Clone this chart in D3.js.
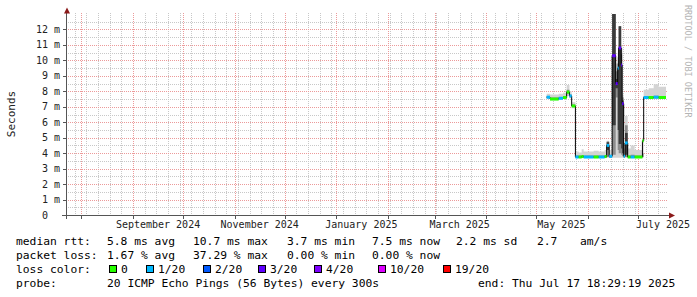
<!DOCTYPE html>
<html>
<head>
<meta charset="utf-8">
<script src="https://cdn.jsdelivr.net/npm/d3@7"></script>
<style>
  body { margin: 0; background: #fff; }
  svg { display: block; font-family: "DejaVu Sans Mono", monospace; }
  text { white-space: pre; }
</style>
</head>
<body>
<svg id="chart" width="697" height="297"></svg>
<script>
// ---- data ----
const endTime = new Date(2025, 6, 17, 18, 29, 19);
const startTime = d3.timeDay.offset(endTime, -360);

const sampleTimes = [
  "2025-05-07T04:00", "2025-05-09T04:00", "2025-05-14T09:00", "2025-05-16T23:00",
  "2025-05-19T04:00", "2025-05-20T20:00", "2025-05-22T04:00", "2025-05-24T10:00",
  "2025-05-26T09:00", "2025-05-28T04:00", "2025-05-29T09:00", "2025-06-04T09:00",
  "2025-06-07T09:00", "2025-06-10T23:00", "2025-06-12T04:00", "2025-06-13T16:00",
  "2025-06-15T11:00", "2025-06-17T14:00", "2025-06-18T19:00", "2025-06-19T09:00",
  "2025-06-20T21:00", "2025-06-21T11:00", "2025-06-22T09:00", "2025-06-23T04:00",
  "2025-06-24T19:00", "2025-06-26T14:00", "2025-06-28T23:00", "2025-07-03T15:00",
  "2025-07-04T09:00", "2025-07-07T09:00", "2025-07-10T09:00", "2025-07-13T09:00",
  "2025-07-17T18:29"
];
// median rtt, ms
const medianMs = [
  7.62, 7.5, 7.55, 7.6, 7.95, 7.7, 7.05, 3.75,
  3.75, 3.78, 3.75, 3.75, 3.75, 3.78, 4.5, 3.8,
  10.3, 8.5, 9.5, 10.8, 9.7, 7.2, 3.8, 4.66,
  3.75, 3.75, 3.75, 4.8, 7.6, 7.6, 7.62, 7.6,
  7.6
];
// lost pings out of 20
const lossCount = [
  1, 0, 1, 0, 0, 1, 0, 1,
  0, 0, 1, 0, 1, 0, 1, 1,
  3, 3, 1, 3, 3, 3, 1, 1,
  0, 1, 0, 0, 1, 0, 1, 0,
  0
];
// smoke: full spread of the pings, ms
const smokeLo = [
  7.5, 7.42, 7.45, 7.5, 7.7, 7.55, 6.9, 3.68,
  3.68, 3.68, 3.68, 3.68, 3.68, 3.68, 3.7, 3.68,
  3.7, 3.7, 3.7, 3.7, 3.7, 3.7, 3.68, 3.7,
  3.68, 3.68, 3.68, 3.7, 7.5, 7.5, 7.5, 7.5,
  7.5
];
const smokeHi = [
  7.85, 7.8, 7.85, 7.9, 8.4, 8.0, 7.3, 4.1,
  4.05, 4.25, 4.1, 4.15, 4.1, 4.2, 4.8, 4.2,
  13.0, 9.8, 10.5, 12.2, 11.0, 7.8, 4.3, 6.4,
  4.3, 4.5, 4.2, 5.0, 8.1, 8.2, 8.45, 8.3,
  8.3
];
// smoke: the middle of the pings (medium grey), ms
const midLo = [
  7.55, 7.45, 7.5, 7.55, 7.85, 7.6, 7.0, 3.7,
  3.7, 3.7, 3.7, 3.7, 3.7, 3.7, 3.75, 3.7,
  3.9, 7.6, 4.2, 4.0, 3.9, 3.8, 3.7, 3.75,
  3.7, 3.7, 3.7, 3.75, 7.55, 7.55, 7.55, 7.55,
  7.55
];
const midHi = [
  7.7, 7.6, 7.62, 7.68, 8.1, 7.8, 7.15, 3.85,
  3.85, 3.88, 3.85, 3.85, 3.85, 3.88, 4.75, 3.9,
  13.0, 9.3, 10.2, 12.2, 10.8, 7.6, 3.9, 5.8,
  3.85, 3.9, 3.85, 4.0, 7.7, 7.7, 7.72, 7.7,
  7.7
];
// smoke: dense core of the pings (dark grey), ms
const coreLo = [
  7.6, 7.5, 7.55, 7.6, 7.9, 7.7, 7.05, 3.75,
  3.75, 3.78, 3.75, 3.75, 3.75, 3.78, 4.2, 3.8,
  5.8, 8.2, 5.5, 4.6, 4.3, 4.0, 3.8, 3.9,
  3.75, 3.75, 3.75, 3.8, 7.6, 7.6, 7.62, 7.6,
  7.6
];
const coreHi = [
  7.62, 7.5, 7.55, 7.6, 7.95, 7.7, 7.05, 3.75,
  3.75, 3.78, 3.75, 3.75, 3.75, 3.78, 4.7, 3.8,
  13.0, 8.8, 9.8, 12.2, 10.4, 7.4, 3.8, 5.3,
  3.75, 3.75, 3.75, 3.8, 7.6, 7.6, 7.62, 7.6,
  7.6
];

const yTicks = [0, 1, 2, 3, 4, 5, 6, 7, 8, 9, 10, 11, 12];
const lossThresholds = [1, 2, 3, 4, 10, 19];
const lossColors = ["#26ff00", "#00b8ff", "#0059ff", "#5e00ff", "#7e00ff", "#dd00ff", "#ff0000"];
const lossLabels = ["0", "1/20", "2/20", "3/20", "4/20", "10/20", "19/20"];

const statRtt = ["5.8 ms avg", "10.7 ms max", "3.7 ms min", "7.5 ms now", "2.2 ms sd", "2.7", "am/s"];
const statLoss = ["1.67 % avg", "37.29 % max", "0.00 % min", "0.00 % now"];
const probeText = "20 ICMP Echo Pings (56 Bytes) every 300s";
const endText = "end: Thu Jul 17 18:29:19 2025";

// ---- setup ----
const svg = d3.select("#chart");
const parse = d3.timeParse("%Y-%m-%dT%H:%M");
const rows = sampleTimes.map((t, i) => ({
  t: parse(t), med: medianMs[i], loss: lossCount[i],
  lo: smokeLo[i], hi: smokeHi[i], mLo: midLo[i], mHi: midHi[i],
  cLo: coreLo[i], cHi: coreHi[i]
}));

const x = d3.scaleTime().domain([startTime, endTime]).range([66, 666]);
const y = d3.scaleLinear().domain([0, 13]).range([215, 14]);
const lossColor = d3.scaleThreshold().domain(lossThresholds).range(lossColors);
const px = (v) => Math.round(v) + 0.5;

svg.append("defs").append("clipPath").attr("id", "plot")
  .append("rect").attr("x", 66).attr("y", 13).attr("width", 601).attr("height", 202);

// grid
const grid = svg.append("g").attr("fill", "none").attr("stroke-dasharray", "1,1");
grid.selectAll(".vmin").data(d3.timeWeek.range(startTime, endTime)).join("line")
  .attr("x1", (d) => px(x(d))).attr("x2", (d) => px(x(d)))
  .attr("y1", 13).attr("y2", 215).attr("stroke", "#c8c8c8");
grid.selectAll(".hmin").data(d3.range(0.5, 13, 0.5)).join("line")
  .attr("x1", 66).attr("x2", 667)
  .attr("y1", (d) => px(y(d))).attr("y2", (d) => px(y(d))).attr("stroke", "#c8c8c8");
grid.selectAll(".vmaj").data(d3.timeMonth.range(startTime, endTime)).join("line")
  .attr("x1", (d) => px(x(d))).attr("x2", (d) => px(x(d)))
  .attr("y1", 13).attr("y2", 215).attr("stroke", "#ec9a9a");
grid.selectAll(".hmaj").data(yTicks.filter((v) => v > 0)).join("line")
  .attr("x1", 66).attr("x2", 667)
  .attr("y1", (d) => px(y(d))).attr("y2", (d) => px(y(d))).attr("stroke", "#ec9a9a");

// smoke + median
const plot = svg.append("g").attr("clip-path", "url(#plot)");
const area = (lo, hi) => d3.area().curve(d3.curveStepAfter)
  .x((d) => x(d.t)).y0((d) => y(d[lo])).y1((d) => y(d[hi]));

plot.append("path").datum(rows).attr("d", area("lo", "hi")).attr("fill", "#d4d4d4");
plot.append("path").datum(rows).attr("d", area("mLo", "mHi")).attr("fill", "#8c8c8c");
plot.append("path").datum(rows).attr("d", area("cLo", "cHi")).attr("fill", "#3a3a3a");

plot.append("path").datum(rows)
  .attr("d", d3.line().curve(d3.curveStepAfter).x((d) => x(d.t)).y((d) => y(d.med)))
  .attr("fill", "none").attr("stroke", "#000").attr("stroke-width", 1);

plot.selectAll(".loss").data(rows.slice(0, -1)).join("rect")
  .attr("x", (d) => x(d.t))
  .attr("width", (d, i) => Math.max(1, x(rows[i + 1].t) - x(d.t)))
  .attr("y", (d) => y(d.med) - 1.5).attr("height", 3)
  .attr("fill", (d) => lossColor(d.loss));

// axes
const axisColor = "#555";
svg.append("line").attr("x1", 62).attr("x2", 670).attr("y1", 215.5).attr("y2", 215.5).attr("stroke", axisColor);
svg.append("line").attr("x1", 66.5).attr("x2", 66.5).attr("y1", 219).attr("y2", 12).attr("stroke", axisColor);
svg.selectAll(".xt").data(d3.timeMonth.range(startTime, endTime)).join("line")
  .attr("x1", (d) => px(x(d))).attr("x2", (d) => px(x(d)))
  .attr("y1", 216).attr("y2", 219).attr("stroke", axisColor);
svg.selectAll(".yt").data(yTicks.filter((v) => v > 0)).join("line")
  .attr("x1", 63).attr("x2", 66).attr("y1", (d) => px(y(d))).attr("y2", (d) => px(y(d)))
  .attr("stroke", axisColor);
svg.append("path").attr("d", "M64,13.5 L67,7.5 L70,13.5 Z").attr("fill", "#8b1a1a");
svg.append("path").attr("d", "M669,212.5 L675,215.5 L669,218.5 Z").attr("fill", "#8b1a1a");

svg.selectAll(".ylab").data(yTicks).join("text")
  .attr("x", 60).attr("y", (d) => y(d) + 3.5)
  .attr("text-anchor", "end").attr("font-size", 10).attr("fill", "#222")
  .text((d) => (d === 0 ? "0  " : d + " m"));

const fmtMonth = d3.timeFormat("%B %Y");
svg.selectAll(".xlab").data(d3.timeMonth.every(2).range(startTime, endTime)).join("text")
  .attr("x", (d) => x(d3.timeDay.offset(d, 15))).attr("y", 228)
  .attr("text-anchor", "middle").attr("font-size", 10).attr("fill", "#222")
  .text(fmtMonth);

svg.append("text").attr("transform", "translate(15,114) rotate(-90)")
  .attr("text-anchor", "middle").attr("font-size", 11).attr("fill", "#222").text("Seconds");
svg.append("text").attr("transform", "translate(685,5) rotate(90)")
  .attr("font-size", 8.5).attr("fill", "#b4b4b4").text("RRDTOOL / TOBI OETIKER");

// legend
const legend = svg.append("g").attr("font-size", 11.3).attr("fill", "#000");
const put = (tx, ty, s) => legend.append("text").attr("x", tx).attr("y", ty).text(s);
const rttCols = [107, 193, 287, 372, 456, 537, 580];
put(16, 245, "median rtt:");
statRtt.forEach((s, i) => put(rttCols[i], 245, s));
put(16, 259, "packet loss:");
statLoss.forEach((s, i) => put(rttCols[i], 259, s));
put(16, 273, "loss color:");
const boxCols = [109, 146, 203, 258, 314, 378, 443];
lossLabels.forEach((s, i) => {
  legend.append("rect").attr("x", boxCols[i] + 0.5).attr("y", 265.5)
    .attr("width", 7).attr("height", 7)
    .attr("fill", lossColors[i]).attr("stroke", "#000");
  put(boxCols[i] + 12, 273, s);
});
put(16, 287, "probe:");
put(107, 287, probeText);
put(478, 287, endText);
</script>
</body>
</html>
